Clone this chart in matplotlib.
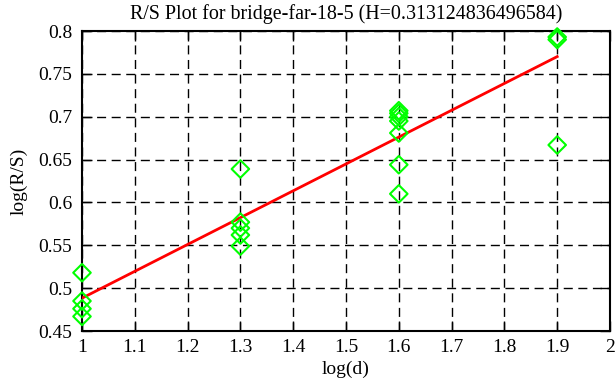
import numpy as np
import matplotlib
matplotlib.use("Agg")
import matplotlib.pyplot as plt

# log(d) and log(R/S) values
log_d = [1.0, 1.0, 1.0, 1.0,
         1.3, 1.3, 1.3, 1.3, 1.3,
         1.6, 1.6, 1.6, 1.6, 1.6, 1.6, 1.6,
         1.9, 1.9, 1.9]
log_rs = [0.518, 0.485, 0.476, 0.467,
          0.639, 0.577, 0.570, 0.562, 0.549,
          0.707, 0.704, 0.700, 0.695, 0.681, 0.644, 0.610,
          0.793, 0.790, 0.667]
H = 0.313124836496584
intercept = 0.1752
title = "R/S Plot for bridge-far-18-5 (H=%s)" % repr(H)

plt.rcParams['font.family'] = ['Liberation Serif', 'DejaVu Serif']
plt.rcParams['font.size'] = 14

fig = plt.figure(figsize=(6.16, 3.87), dpi=100)
ax = fig.add_axes([82/616, 1 - 331/387, 528/616, 300/387])

# fitted line log(R/S) = H*log(d) + c
xl = np.array([min(log_d), max(log_d)])
ax.plot(xl, H * xl + intercept, color='#ff0000', lw=2, zorder=3)

ax.scatter(log_d, log_rs, marker='D', s=80, facecolors='none',
           edgecolors='#00ff00', linewidths=1.5, zorder=4, clip_on=False)

ax.set_xlim(1, 2)
ax.set_ylim(0.45, 0.8)
ax.set_xticks(np.arange(1, 2.01, 0.1))
ax.set_xticklabels(['1', '1.1', '1.2', '1.3', '1.4', '1.5', '1.6', '1.7', '1.8', '1.9', '2'])
ax.set_yticks(np.arange(0.45, 0.801, 0.05))
ax.set_yticklabels(['0.45', '0.5', '0.55', '0.6', '0.65', '0.7', '0.75', '0.8'])
ax.grid(True, color='black', linestyle=(0, (6.5, 4)), linewidth=1)
ax.tick_params(direction='in', length=7, width=1, top=True, right=True, pad=6)
ax.tick_params(axis='y', pad=7)
for s in ax.spines.values():
    s.set_linewidth(1.5)

ax.set_xlabel('log(d)', labelpad=3)
ax.set_ylabel('log(R/S)', labelpad=8)
ax.set_title(title, pad=9, fontsize=14.4)

fig.savefig('out.png', dpi=100)
